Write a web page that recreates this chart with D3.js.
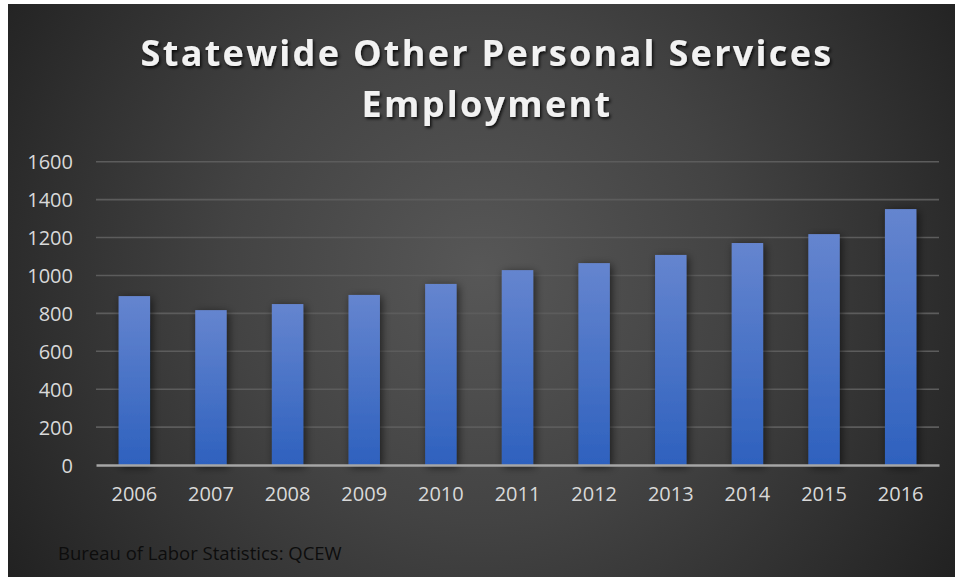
<!DOCTYPE html>
<html>
<head>
<meta charset="utf-8">
<script src="https://cdn.jsdelivr.net/npm/d3@7"></script>
<style>
  html, body { margin: 0; padding: 0; background: #ffffff; }
  svg { display: block; }
</style>
</head>
<body>
<div id="chart"></div>
<script>
// Statewide Other Personal Services employment, 2006–2016
const years = ["2006", "2007", "2008", "2009", "2010", "2011", "2012", "2013", "2014", "2015", "2016"];
const employment = [891, 817, 849, 897, 955, 1028, 1065, 1108, 1171, 1218, 1350];
const yTicks = [0, 200, 400, 600, 800, 1000, 1200, 1400, 1600];
const titleLines = ["Statewide Other Personal Services", "Employment"];
const sourceNote = "Bureau of Labor Statistics: QCEW";

const W = 955, H = 577;
const margin = { left: 96, right: 16, top: 161.7, bottom: 112 };
const font = "'Open Sans', 'Noto Sans', sans-serif";

const svg = d3.select("#chart").append("svg")
  .attr("width", W).attr("height", H);

const defs = svg.append("defs");

// Dark radial backdrop
const bg = defs.append("radialGradient").attr("id", "bgGrad")
  .attr("gradientUnits", "userSpaceOnUse")
  .attr("cx", 480).attr("cy", 270).attr("r", 560);
bg.append("stop").attr("offset", "0%").attr("stop-color", "#575757");
bg.append("stop").attr("offset", "45%").attr("stop-color", "#434343");
bg.append("stop").attr("offset", "100%").attr("stop-color", "#222222");

// Bar fill: lighter at the top, deeper blue at the base
const barGrad = defs.append("linearGradient").attr("id", "barGrad")
  .attr("x1", 0).attr("y1", 0).attr("x2", 0).attr("y2", 1);
barGrad.append("stop").attr("offset", "0%").attr("stop-color", "#6585cf");
barGrad.append("stop").attr("offset", "100%").attr("stop-color", "#2e61be");

const barShadow = defs.append("filter").attr("id", "barShadow")
  .attr("x", "-50%").attr("y", "-20%").attr("width", "200%").attr("height", "140%");
barShadow.append("feDropShadow")
  .attr("dx", 2).attr("dy", 2).attr("stdDeviation", 4)
  .attr("flood-color", "#000").attr("flood-opacity", 0.6);

const titleShadow = defs.append("filter").attr("id", "titleShadow")
  .attr("x", "-10%").attr("y", "-30%").attr("width", "120%").attr("height", "160%");
titleShadow.append("feDropShadow")
  .attr("dx", 1.5).attr("dy", 2).attr("stdDeviation", 1.5)
  .attr("flood-color", "#000").attr("flood-opacity", 0.8);

svg.append("rect")
  .attr("x", 8).attr("y", 4).attr("width", W - 8).attr("height", H - 4)
  .attr("fill", "url(#bgGrad)");

// Title
svg.append("g").attr("filter", "url(#titleShadow)")
  .selectAll("text").data(titleLines).join("text")
  .attr("x", 487)
  .attr("y", (d, i) => 66 + i * 51)
  .attr("text-anchor", "middle")
  .attr("font-family", font)
  .attr("font-weight", 700)
  .attr("font-size", 36)
  .attr("letter-spacing", 2.3)
  .attr("fill", "#f2f2f2")
  .text(d => d);

const x = d3.scaleBand()
  .domain(years)
  .range([margin.left, W - margin.right])
  .paddingInner(0.59)
  .paddingOuter(0.295);

const y = d3.scaleLinear()
  .domain([0, 1600])
  .range([H - margin.bottom, margin.top]);

// Horizontal gridlines
svg.append("g")
  .selectAll("line").data(yTicks.filter(t => t > 0)).join("line")
  .attr("x1", margin.left).attr("x2", W - margin.right)
  .attr("y1", d => y(d)).attr("y2", d => y(d))
  .attr("stroke", "#5c5c5c").attr("stroke-width", 1.6);

// Bars
svg.append("g")
  .selectAll("rect").data(years).join("rect")
  .attr("x", d => x(d))
  .attr("y", (d, i) => y(employment[i]))
  .attr("width", x.bandwidth())
  .attr("height", (d, i) => y(0) - y(employment[i]))
  .attr("fill", "url(#barGrad)")
  .attr("filter", "url(#barShadow)");

// Y axis labels
const yAxis = svg.append("g")
  .attr("transform", `translate(${margin.left - 23},0)`)
  .call(d3.axisLeft(y).tickValues(yTicks).tickSize(0).tickPadding(0).tickFormat(d3.format("d")));
yAxis.select(".domain").remove();
yAxis.selectAll("text")
  .attr("font-family", font)
  .attr("font-size", 20)
  .attr("fill", "#d9d9d9")
  .attr("dy", "0.35em");

// X axis labels and baseline
const xAxis = svg.append("g")
  .attr("transform", `translate(0,${y(0)})`)
  .call(d3.axisBottom(x).tickSize(0).tickPadding(22));
xAxis.select(".domain")
  .attr("stroke", "#a6a6a6").attr("stroke-width", 2.5);
xAxis.selectAll("text")
  .attr("font-family", font)
  .attr("font-size", 20)
  .attr("fill", "#d9d9d9");

// Source note
svg.append("text")
  .attr("x", 58).attr("y", 560)
  .attr("font-family", font)
  .attr("font-size", 18.5)
  .attr("fill", "#0d0d0d")
  .text(sourceNote);
</script>
</body>
</html>
